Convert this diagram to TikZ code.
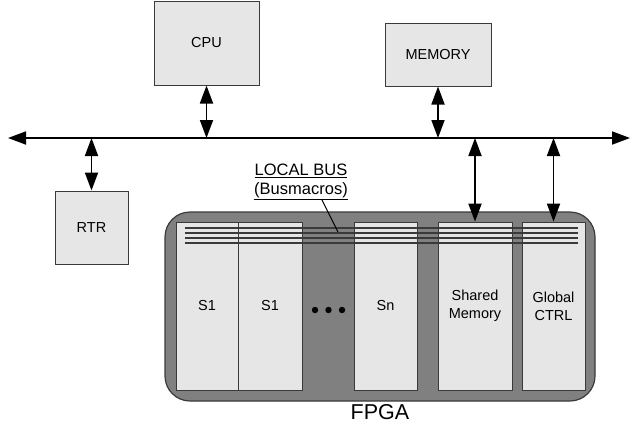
\documentclass[tikz,border=0pt]{standalone}
\usepackage{fontspec}
\setmainfont{Liberation Sans}
\usetikzlibrary{arrows.meta}
\definecolor{boxfill}{HTML}{E6E6E6}
\definecolor{fpgafill}{HTML}{808080}
\definecolor{edge}{HTML}{3A3A3A}
\begin{document}
\begin{tikzpicture}[x=1pt,y=-1pt,
  unit/.style={draw=edge,line width=1pt,fill=boxfill,inner sep=0pt,
    font=\fontsize{14.5}{17}\selectfont,align=center},
  slot/.style={draw=edge,line width=0.8pt,fill=boxfill,inner sep=0pt,
    minimum height=168pt,font=\fontsize{14.5}{18}\selectfont,align=center},
  dbl/.style={line width=1.8pt,{Triangle[length=18pt,width=13pt]}-{Triangle[length=18pt,width=13pt]}},
  busline/.style={draw=edge,line width=1.6pt}]
\useasboundingbox (0,0) rectangle (634,429);
% top-level units
\node[unit,minimum width=105pt,minimum height=84pt] (cpu) at (206.5,43) {CPU};
\node[unit,minimum width=106pt,minimum height=63pt] (mem) at (438,54.5) {MEMORY};
\node[unit,minimum width=73pt,minimum height=73pt] (rtr) at (91.5,227.5) {RTR};
% FPGA
\node[draw=edge,line width=1.2pt,fill=fpgafill,rounded corners=25pt,
  minimum width=430pt,minimum height=189pt,inner sep=0pt] (fpga) at (380,306.5) {};
\node[font=\fontsize{21.5}{24}\selectfont] (fpgalabel) at (380,412) {FPGA};
% slots
\node[slot,minimum width=62pt] (s1a) at (207,306) {S1};
\node[slot,minimum width=64pt] (s1b) at (270,306) {S1};
\node[slot,minimum width=63pt] (sn) at (385.5,306) {Sn};
\node[slot,minimum width=74pt] (shm) at (475,306) {Shared\\Memory};
\node[slot,minimum width=63pt] (gctrl) at (553.5,306) {Global\\CTRL};
% dots
\fill (315,310) circle (3.2pt) (328.5,310) circle (3.2pt) (342,310) circle (3.2pt);
% local bus lines
\foreach \yy in {228,233,238,243}
  \draw[busline] (185,\yy) -- (578,\yy);
% local bus label
\node[font=\fontsize{16.5}{19}\selectfont,align=center,inner sep=1pt] (lbl) at (301,182)
  {\underline{LOCAL BUS}\\\underline{(Busmacros)}};
\coordinate (leadA) at (322,200);
\coordinate (leadB) at (338,232);
\draw[line width=0.9pt] (leadA) -- (leadB);
% system bus
\coordinate (busL) at (8,138);
\coordinate (busR) at (630,138);
\draw[dbl] (busL) -- (busR);
\draw[dbl] (cpu.south) -- (cpu.south |- busL);
\draw[dbl] (mem.south) -- (mem.south |- busL);
\draw[dbl] (rtr.north |- busL) -- (rtr.north);
\draw[dbl] (shm.north |- busL) -- (shm.north);
\draw[dbl] (gctrl.north |- busL) -- (gctrl.north);
\end{tikzpicture}
\end{document}
